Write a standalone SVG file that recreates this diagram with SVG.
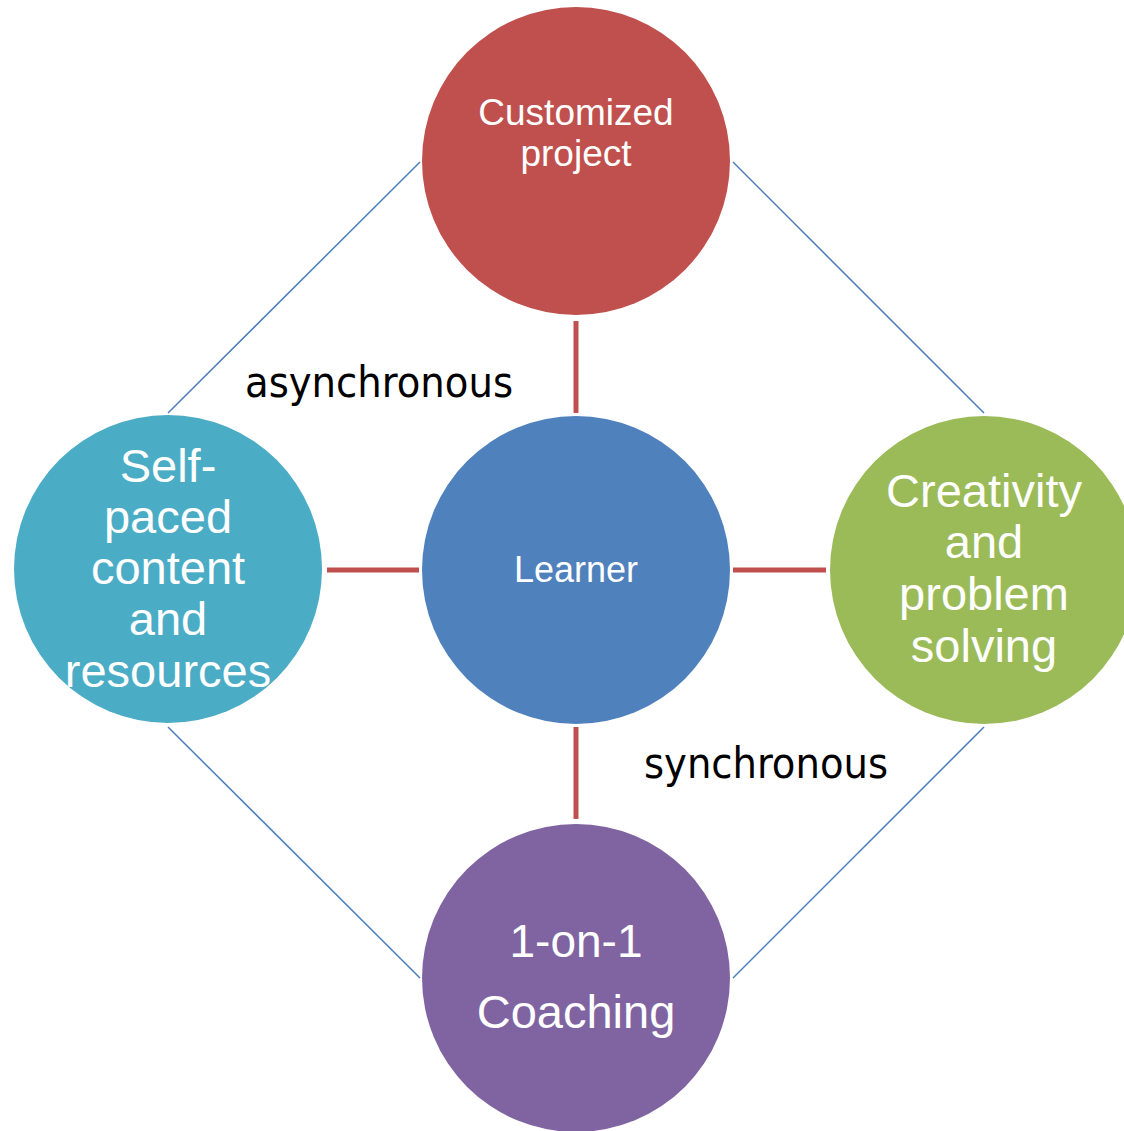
<svg xmlns="http://www.w3.org/2000/svg" width="1124" height="1131" viewBox="0 0 1124 1131">
  <style>
    .node-text { font-family: "Liberation Sans", Arial, sans-serif; fill: #ffffff; text-anchor: middle; }
    .label { font-family: "DejaVu Sans Condensed", "DejaVu Sans", sans-serif; fill: #000000; font-size: 42px; }
    .spoke { stroke: #C0504D; stroke-width: 5; fill: none; }
    .rim { stroke: #4A7EBB; stroke-width: 1.5; fill: none; }
  </style>
  <rect width="1124" height="1131" fill="#ffffff"/>

  <!-- connectors: red spokes from the hub, blue rim lines between outer nodes -->
  <g id="connectors">
    <line class="spoke" x1="576" y1="321" x2="576" y2="413"/>
    <line class="spoke" x1="576" y1="727" x2="576" y2="819"/>
    <line class="spoke" x1="327" y1="570" x2="419" y2="570"/>
    <line class="spoke" x1="733" y1="570" x2="826" y2="570"/>
    <line class="rim" x1="420" y1="162" x2="168" y2="413"/>
    <line class="rim" x1="733" y1="162" x2="984" y2="413"/>
    <line class="rim" x1="168" y1="727" x2="420" y2="978"/>
    <line class="rim" x1="984" y1="727" x2="733" y2="978"/>
  </g>

  <g id="node-customized">
    <circle cx="576" cy="161" r="154" fill="#C0504D"/>
    <text class="node-text" font-size="37" x="576" y="125">Customized</text>
    <text class="node-text" font-size="37" x="576" y="166">project</text>
  </g>

  <g id="node-learner">
    <circle cx="576" cy="570" r="154" fill="#4F81BD"/>
    <text class="node-text" font-size="36" x="576" y="582">Learner</text>
  </g>

  <g id="node-selfpaced">
    <circle cx="168" cy="569" r="154" fill="#4BACC6"/>
    <text class="node-text" font-size="47" x="168" y="482">Self-</text>
    <text class="node-text" font-size="47" x="168" y="533">paced</text>
    <text class="node-text" font-size="47" x="168" y="584">content</text>
    <text class="node-text" font-size="47" x="168" y="635">and</text>
    <text class="node-text" font-size="47" x="168" y="687">resources</text>
  </g>

  <g id="node-creativity">
    <circle cx="984" cy="570" r="154" fill="#9BBB59"/>
    <text class="node-text" font-size="47" x="984" y="507">Creativity</text>
    <text class="node-text" font-size="47" x="984" y="558">and</text>
    <text class="node-text" font-size="47" x="984" y="610">problem</text>
    <text class="node-text" font-size="47" x="984" y="662">solving</text>
  </g>

  <g id="node-coaching">
    <circle cx="576" cy="978" r="154" fill="#8064A2"/>
    <text class="node-text" font-size="46" x="576" y="957">1-on-1</text>
    <text class="node-text" font-size="47" x="576" y="1028">Coaching</text>
  </g>

  <g id="mode-labels">
    <text class="label" x="245" y="397" textLength="268" lengthAdjust="spacingAndGlyphs">asynchronous</text>
    <text class="label" x="644" y="778" textLength="244" lengthAdjust="spacingAndGlyphs">synchronous</text>
  </g>
</svg>
